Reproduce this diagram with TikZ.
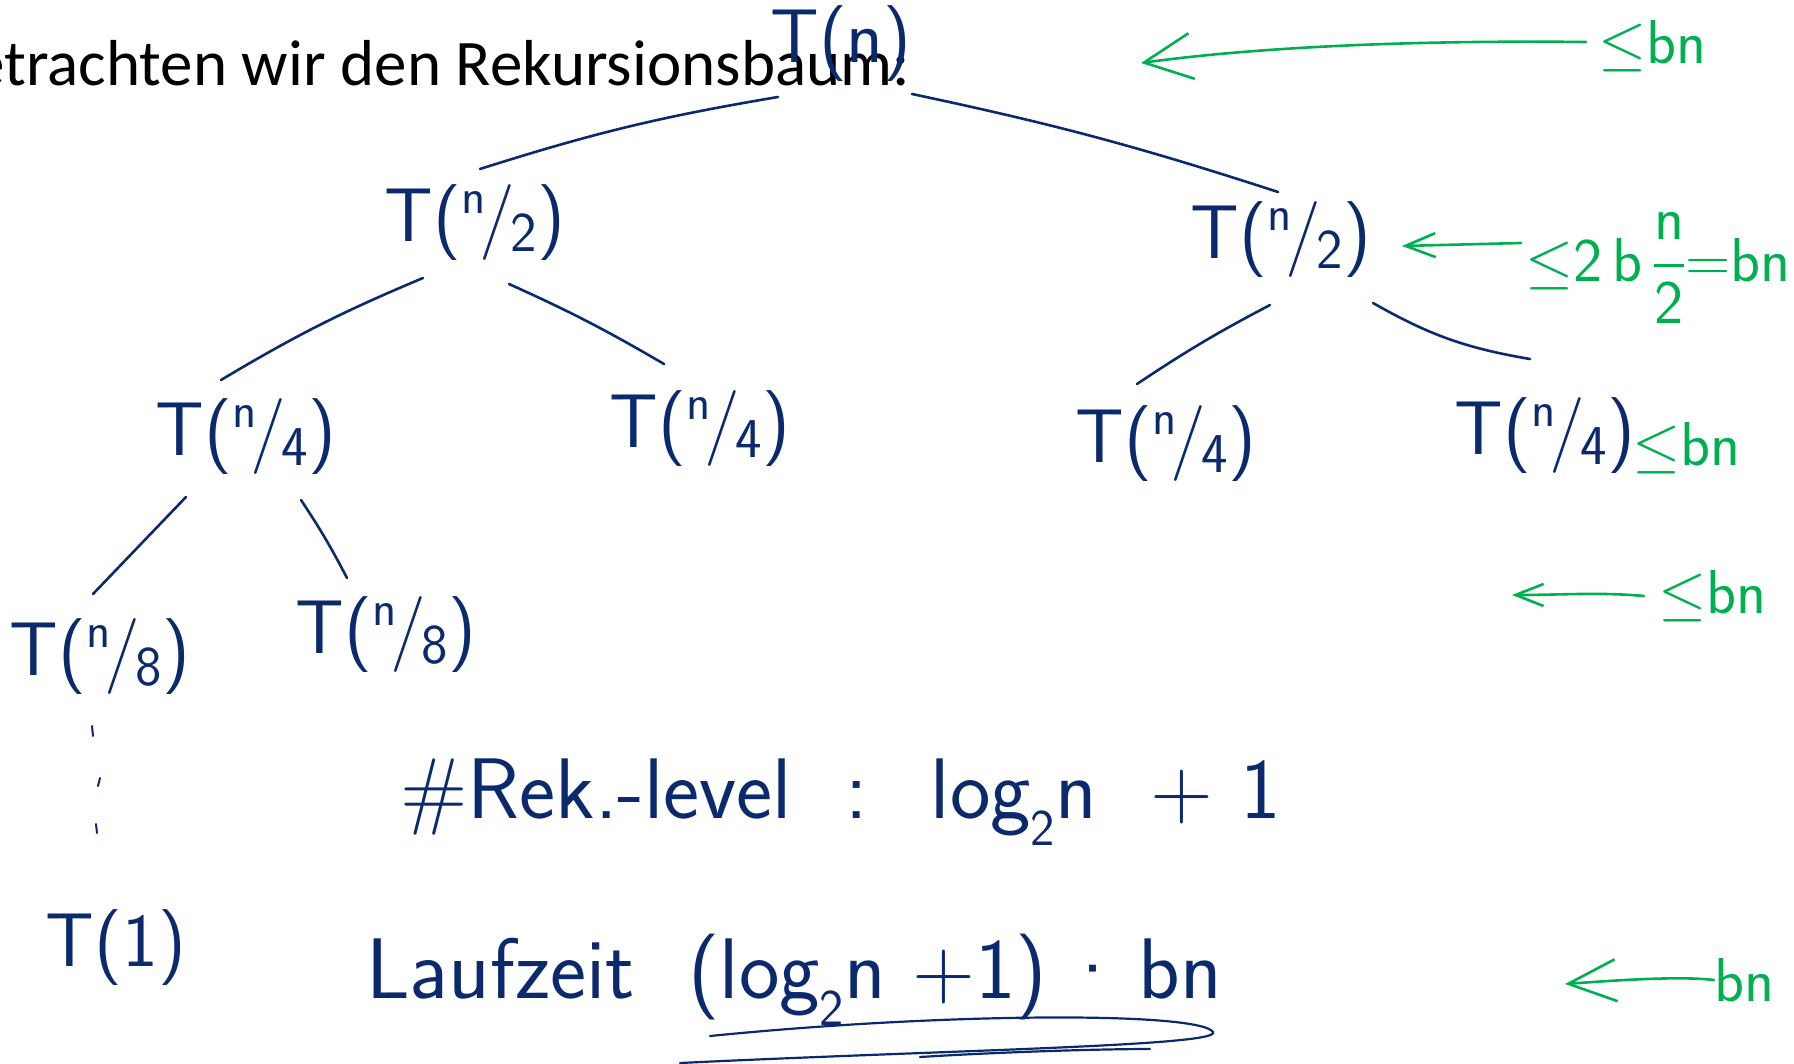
\documentclass[tikz,border=0pt]{standalone}
\usepackage{fix-cm}
\usepackage{fontspec}
\setmainfont{Carlito}
\usetikzlibrary{arrows.meta,calc}
\definecolor{ink}{HTML}{0B2A6E}
\definecolor{mark}{HTML}{00B050}
% slanted fraction n/2 as written by hand: small raised numerator, lowered denominator
\newcommand\hwfrac[2]{\raisebox{0.38em}{\scalebox{0.66}{#1}}\kern-0.08em/\kern-0.06em\raisebox{-0.12em}{\scalebox{0.74}{#2}}}
\newcommand\lowsub[1]{\raisebox{-0.32em}{\scalebox{0.6}{#1}}}
\begin{document}
\begin{tikzpicture}[x=1pt,y=-1pt,
  hw/.style={text=ink, font=\sffamily\fontsize{76}{84}\selectfont, inner sep=0pt},
  hwbig/.style={text=ink, font=\sffamily\fontsize{86}{94}\selectfont, inner sep=0pt},
  note/.style={text=mark, font=\sffamily\fontsize{62}{68}\selectfont, inner sep=0pt},
  branch/.style={draw=ink, line width=2.6pt, line cap=round},
  garrow/.style={draw=mark, line width=2.6pt, line cap=round, line join=round},
]
\useasboundingbox (0,0) rectangle (1794,1064);

% heading
\node[anchor=base east, inner sep=0pt, font=\fontsize{65}{70}\selectfont] (title) at (910,86) {Betrachten wir den Rekursionsbaum:};

% recursion tree
\node[hw] (tn) at (841,44) {T(n)};
\node[hw] (l1) at (475,223) {T(\hwfrac{n}{2})};
\node[hw] (r1) at (1281,240) {T(\hwfrac{n}{2})};
\node[hw] (ll) at (246,437) {T(\hwfrac{n}{4})};
\node[hw] (lr) at (700,429) {T(\hwfrac{n}{4})};
\node[hw] (rl) at (1166,444) {T(\hwfrac{n}{4})};
\node[hw] (rr) at (1545,436) {T(\hwfrac{n}{4})};
\node[hw] (e1) at (100,657) {T(\hwfrac{n}{8})};
\node[hw] (e2) at (386,635) {T(\hwfrac{n}{8})};
\node[hw] (t1) at (116,948) {T(1)};

\draw[branch] ($(tn)+(-63,53)$) to[bend right=4] ($(l1)+(5,-54)$);
\draw[branch] ($(tn)+(71,50)$) to[bend left=3] ($(r1)+(-3,-48)$);
\draw[branch] ($(l1)+(-52,55)$) to[bend right=4] ($(ll)+(-25,-57)$);
\draw[branch] ($(l1)+(34,61)$) to[bend left=3] ($(lr)+(-36,-65)$);
\draw[branch] ($(r1)+(-11,65)$) to[bend right=3] ($(rl)+(-29,-60)$);
\draw[branch] ($(r1)+(92,63)$) to[bend right=10] ($(rr)+(-15,-77)$);
\draw[branch] ($(ll)+(-60,60)$) -- ($(e1)+(-7,-63)$);
\draw[branch] ($(ll)+(55,63)$) to[bend left=3] ($(e2)+(-39,-57)$);

% vertical dots between T(n/8) and T(1)
\coordinate (d1) at (92,726);
\coordinate (d2) at (100,778);
\coordinate (d3) at (96,824);
\draw[branch, line width=2pt] (d1) -- ++(1,10);
\draw[branch, line width=2pt] (d2) -- ++(-2,8);
\draw[branch, line width=2pt] (d3) -- ++(1,9);

% level count and running time
\node[hwbig, anchor=base west] (lev) at (400,818) {\#Rek.-level \ : \ log\lowsub{2}n \ + 1};
\node[hwbig, anchor=base west] (run) at (366,998) {Laufzeit \ (log\lowsub{2}n +1)\,·\,bn};
\coordinate (u1) at (710,1036);
\coordinate (u2) at (680,1063);
\draw[branch, line width=2.2pt] (u1) .. controls (950,1012) and (1200,1012) .. (1213,1032)
  .. controls (1222,1046) and (950,1050) .. (u2);
\draw[branch, line width=2.2pt] ($(u2)+(240,-6)$) .. controls (1000,1052) and (1100,1049) .. (1150,1049);

% per-level costs
\node[note, anchor=west] (c0) at (1598,46) {$\leq$bn};
\coordinate (h0) at (1141,63);
\draw[garrow, -{Straight Barb[length=48pt,width=46pt]}] ($(c0.west)+(-12,-4)$) .. controls (1400,40) and (1250,48) .. (h0);

\node[note, anchor=west] (c1) at (1525,268) {$\leq$2\,b\,$\displaystyle{\mathsf{n}\above2.6pt\mathsf{2}}$=bn};
\coordinate (h1) at (1402,246);
\draw[garrow, -{Straight Barb[length=30pt,width=24pt]}] ($(c1.west)+(-4,-25)$) -- (h1);

\node[note, anchor=west] (c2) at (1632,448) {$\leq$bn};

\node[note, anchor=west] (c3) at (1658,596) {$\leq$bn};
\coordinate (h3) at (1512,595);
\draw[garrow, -{Straight Barb[length=28pt,width=22pt]}] ($(c3.west)+(-14,0)$) .. controls (1600,592) and (1560,595) .. (h3);

\node[note, anchor=west] (c4) at (1714,980) {bn};
\coordinate (h4) at (1565,984);
\draw[garrow, -{Straight Barb[length=48pt,width=42pt]}] (c4.west) .. controls (1680,976) and (1620,980) .. (h4);
\end{tikzpicture}
\end{document}
